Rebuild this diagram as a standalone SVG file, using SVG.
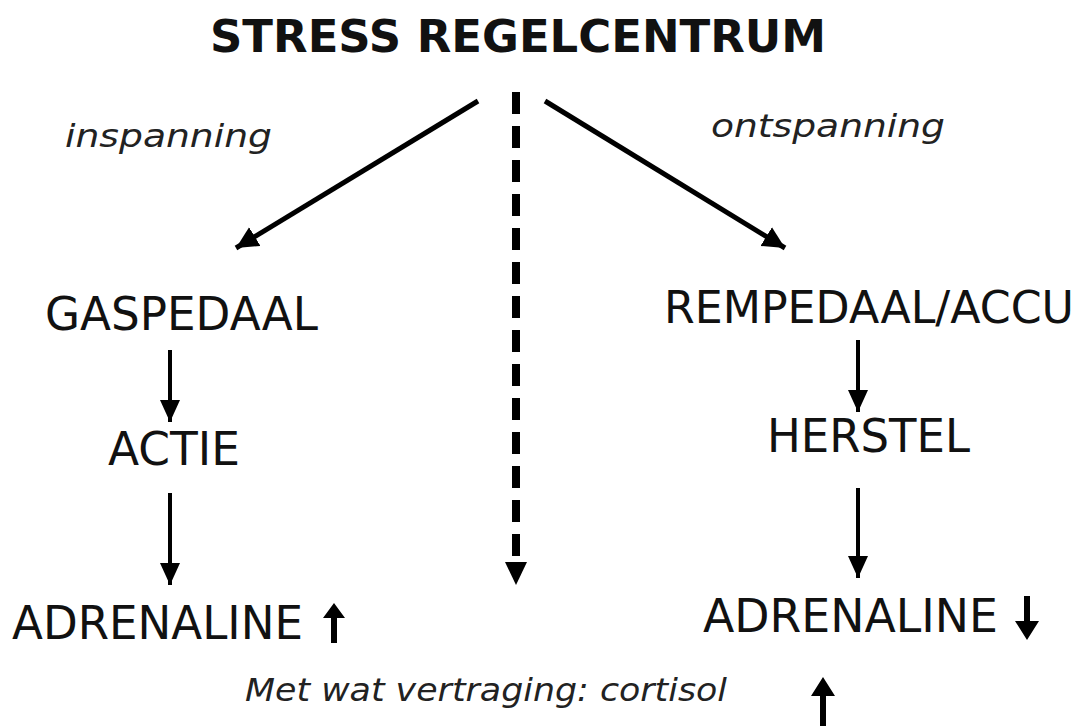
<svg xmlns="http://www.w3.org/2000/svg" width="1086" height="726" viewBox="0 0 1086 726">
<style>
.t{font-family:"DejaVu Sans","Liberation Sans",sans-serif;fill:#111;}
.b{font-weight:bold;font-size:44px;}
.n{font-size:46px;}
.i{font-style:italic;font-size:32px;fill:#222;}
.ln{stroke:#000;fill:none;}
</style>
<defs>
<marker id="ah" markerUnits="userSpaceOnUse" markerWidth="26" markerHeight="26" refX="22" refY="11" orient="auto">
<path d="M0,0 L22,11 L0,22 Z" fill="#000"/>
</marker>
<marker id="ahs" markerUnits="userSpaceOnUse" markerWidth="26" markerHeight="26" refX="22" refY="11" orient="auto">
<path d="M0,1 L22,11 L0,21 Z" fill="#000"/>
</marker>
</defs>
<rect width="1086" height="726" fill="#fff"/>
<g id="title"><text class="t b" x="210" y="52" textLength="616" lengthAdjust="spacingAndGlyphs">STRESS REGELCENTRUM</text></g>
<g id="label-inspanning"><text class="t i" x="65" y="147" textLength="207" lengthAdjust="spacingAndGlyphs">inspanning</text></g>
<g id="label-ontspanning"><text class="t i" x="711" y="137" textLength="234" lengthAdjust="spacingAndGlyphs">ontspanning</text></g>
<g id="gaspedaal"><text class="t n" x="45" y="330" textLength="273" lengthAdjust="spacingAndGlyphs">GASPEDAAL</text></g>
<g id="rempedaal"><text class="t n" x="664" y="323" style="font-size:44px" textLength="410" lengthAdjust="spacingAndGlyphs">REMPEDAAL/ACCU</text></g>
<g id="actie"><text class="t n" x="108" y="465" textLength="132" lengthAdjust="spacingAndGlyphs">ACTIE</text></g>
<g id="herstel"><text class="t n" x="767" y="452" textLength="203" lengthAdjust="spacingAndGlyphs">HERSTEL</text></g>
<g id="adrenaline-left"><text class="t n" x="12" y="639" textLength="291" lengthAdjust="spacingAndGlyphs">ADRENALINE</text>
<path d="M334,603 L345,618 L337,618 L337,643 L331,643 L331,618 L323,618 Z" fill="#000"/></g>
<g id="adrenaline-right"><text class="t n" x="703" y="632" textLength="295" lengthAdjust="spacingAndGlyphs">ADRENALINE</text>
<path d="M1027,640 L1039,621 L1030,621 L1030,596 L1024,596 L1024,621 L1015,621 Z" fill="#000"/></g>
<g id="cortisol"><text class="t i" x="245" y="701" textLength="482" lengthAdjust="spacingAndGlyphs">Met wat vertraging: cortisol</text>
<path d="M823,677 L835,696 L826,696 L826,726 L820,726 L820,696 L811,696 Z" fill="#000"/></g>
<g id="connectors">
<line class="ln" x1="478" y1="101" x2="236" y2="248" stroke-width="5" marker-end="url(#ah)"/>
<line class="ln" x1="545" y1="101" x2="785" y2="248" stroke-width="5" marker-end="url(#ah)"/>
<line class="ln" x1="516" y1="92" x2="516" y2="565" stroke-width="8" stroke-dasharray="22 12"/>
<path d="M505,562 L527,562 L516,585 Z" fill="#000"/>
<line class="ln" x1="170" y1="350" x2="170" y2="422" stroke-width="4" marker-end="url(#ahs)"/>
<line class="ln" x1="170" y1="493" x2="170" y2="585" stroke-width="4" marker-end="url(#ahs)"/>
<line class="ln" x1="858" y1="340" x2="858" y2="412" stroke-width="4" marker-end="url(#ahs)"/>
<line class="ln" x1="858" y1="488" x2="858" y2="578" stroke-width="4" marker-end="url(#ahs)"/>
</g>
</svg>
